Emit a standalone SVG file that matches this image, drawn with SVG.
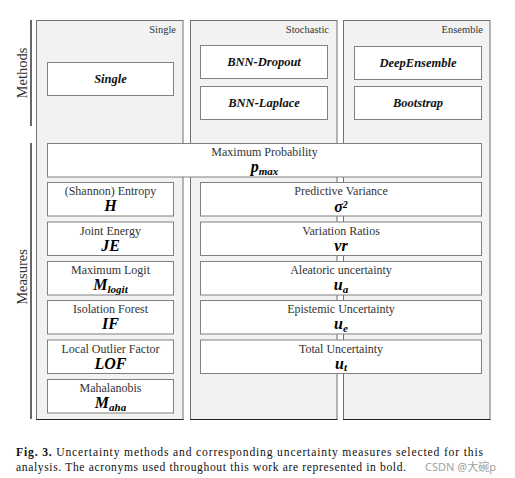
<svg xmlns="http://www.w3.org/2000/svg" width="515" height="478" viewBox="0 0 515 478" font-family="'Liberation Serif', 'DejaVu Serif', serif">
<style>
.panel{fill:#f2f2f2;stroke:#707070;stroke-width:1}
.box{fill:#ffffff;stroke:#808080;stroke-width:1}
.axis{stroke:#000;stroke-width:1.2}
.t{font-family:'Liberation Serif','DejaVu Serif',serif;fill:#222}
.hdr{font-size:10.5px;text-anchor:end;fill:#333}
.side{font-size:14.5px;text-anchor:middle;fill:#333}
.meth{font-size:12.5px;font-weight:bold;font-style:italic;text-anchor:middle;fill:#111}
.lbl{font-size:12px;text-anchor:middle;fill:#333}
.sym{font-size:16px;font-weight:bold;font-style:italic;text-anchor:middle;fill:#000}
.sub{font-size:11px}
.sup{font-size:10px}
.cap{font-size:11.6px;fill:#111}
.wm{font-family:'Noto Sans','Noto Sans CJK SC',sans-serif;font-size:11px;fill:#a0a0a0}
</style>
<rect width="515" height="478" fill="#fff"/>
<g id="panels">
<rect class="panel" x="36.5" y="20.5" width="146.5" height="399"/>
<rect class="panel" x="190.5" y="20.5" width="146.5" height="399"/>
<rect class="panel" x="343.5" y="20.5" width="146.5" height="399"/>
<line x1="36" y1="419.5" x2="183.5" y2="419.5" stroke="#222" stroke-width="1.2"/>
<line x1="190" y1="419.5" x2="337.5" y2="419.5" stroke="#222" stroke-width="1.2"/>
<line x1="343" y1="419.5" x2="490.5" y2="419.5" stroke="#222" stroke-width="1.2"/>
<text class="t hdr" x="176" y="33">Single</text>
<text class="t hdr" x="329" y="33">Stochastic</text>
<text class="t hdr" x="483" y="33">Ensemble</text>
</g>
<g id="axes">
<line class="axis" x1="31" y1="20" x2="31" y2="126"/>
<line class="axis" x1="31" y1="143" x2="31" y2="419"/>
<text class="t side" transform="translate(27,73) rotate(-90)">Methods</text>
<text class="t side" transform="translate(27,277) rotate(-90)">Measures</text>
</g>
<g id="connectors"></g>
<g id="m-single"><rect class="box" x="47.5" y="62.5" width="126" height="33"/><text class="t meth" x="110.5" y="83">Single</text></g>
<g id="m-dropout"><rect class="box" x="200.5" y="45.5" width="127" height="33"/><text class="t meth" x="264" y="66">BNN-Dropout</text></g>
<g id="m-laplace"><rect class="box" x="200.5" y="86.5" width="127" height="33"/><text class="t meth" x="264" y="107">BNN-Laplace</text></g>
<g id="m-deepens"><rect class="box" x="354.5" y="46.5" width="127" height="33"/><text class="t meth" x="418" y="67">DeepEnsemble</text></g>
<g id="m-bootstrap"><rect class="box" x="354.5" y="86.5" width="127" height="33"/><text class="t meth" x="418" y="107">Bootstrap</text></g>

<g id="maxprob"><rect class="box" x="47.5" y="143.5" width="434" height="33.5"/><text class="t lbl" x="264.5" y="156">Maximum Probability</text><text class="t sym" x="264.5" y="172">p<tspan class="sub" dy="2.5">max</tspan></text></g>

<g id="entropy"><rect class="box" x="47.5" y="182.5" width="126" height="33.5"/><text class="t lbl" x="110.5" y="195">(Shannon) Entropy</text><text class="t sym" x="110.5" y="211">H</text></g>
<g id="jointenergy"><rect class="box" x="47.5" y="222" width="126" height="33.5"/><text class="t lbl" x="110.5" y="234.5">Joint Energy</text><text class="t sym" x="110.5" y="250.5">JE</text></g>
<g id="maxlogit"><rect class="box" x="47.5" y="261.5" width="126" height="33.5"/><text class="t lbl" x="110.5" y="274">Maximum Logit</text><text class="t sym" x="110.5" y="290">M<tspan class="sub" dy="2.5">logit</tspan></text></g>
<g id="isoforest"><rect class="box" x="47.5" y="300.5" width="126" height="33.5"/><text class="t lbl" x="110.5" y="313">Isolation Forest</text><text class="t sym" x="110.5" y="329">IF</text></g>
<g id="lof"><rect class="box" x="47.5" y="340" width="126" height="33.5"/><text class="t lbl" x="110.5" y="352.5">Local Outlier Factor</text><text class="t sym" x="110.5" y="368.5">LOF</text></g>
<g id="mahalanobis"><rect class="box" x="47.5" y="379.5" width="126" height="33.5"/><text class="t lbl" x="110.5" y="392">Mahalanobis</text><text class="t sym" x="110.5" y="408">M<tspan class="sub" dy="2.5">aha</tspan></text></g>

<g id="predvar"><rect class="box" x="200.5" y="182.5" width="281" height="33.5"/><text class="t lbl" x="341" y="194.5">Predictive Variance</text><text class="t sym" x="341" y="212">σ<tspan class="sup" dy="-4">2</tspan></text></g>
<g id="varratio"><rect class="box" x="200.5" y="222" width="281" height="33.5"/><text class="t lbl" x="341" y="234.5">Variation Ratios</text><text class="t sym" x="341" y="250.5">vr</text></g>
<g id="aleatoric"><rect class="box" x="200.5" y="261.5" width="281" height="33.5"/><text class="t lbl" x="341" y="274">Aleatoric uncertainty</text><text class="t sym" x="341" y="290">u<tspan class="sub" dy="2.5">a</tspan></text></g>
<g id="epistemic"><rect class="box" x="200.5" y="300.5" width="281" height="33.5"/><text class="t lbl" x="341" y="313">Epistemic Uncertainty</text><text class="t sym" x="341" y="329">u<tspan class="sub" dy="2.5">e</tspan></text></g>
<g id="total"><rect class="box" x="200.5" y="340" width="281" height="33.5"/><text class="t lbl" x="341" y="352.5">Total Uncertainty</text><text class="t sym" x="341" y="368.5">u<tspan class="sub" dy="2.5">t</tspan></text></g>

<g id="caption">
<text class="t cap" x="16" y="456" textLength="467" lengthAdjust="spacing"><tspan font-weight="bold">Fig. 3.</tspan>  Uncertainty methods and corresponding uncertainty measures selected for this</text>
<text class="t cap" x="16" y="471" textLength="390" lengthAdjust="spacing">analysis. The acronyms used throughout this work are represented in bold.</text>
<text class="wm" x="425" y="471">CSDN @大碗p</text>
</g>
</svg>
